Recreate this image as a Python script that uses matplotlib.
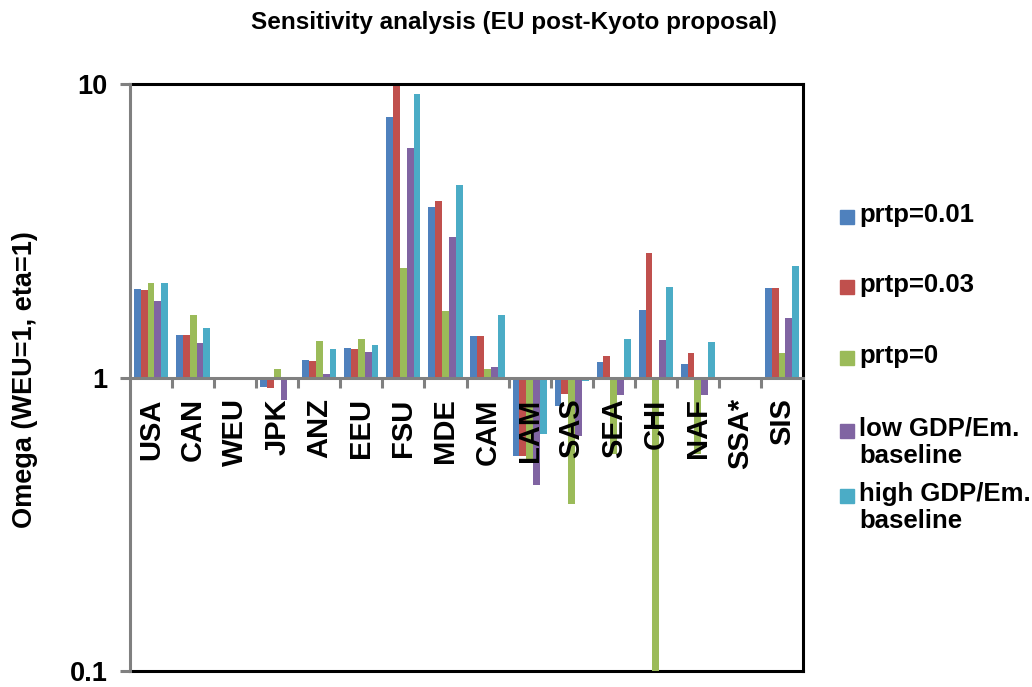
import matplotlib
matplotlib.use("Agg")
import matplotlib.pyplot as plt
import numpy as np
from matplotlib.patches import Rectangle
from matplotlib.ticker import FixedLocator, FixedFormatter, NullLocator

plt.rcParams['font.family'] = ['Liberation Sans', 'DejaVu Sans']
plt.rcParams['font.weight'] = 'bold'

categories = ["USA", "CAN", "WEU", "JPK", "ANZ", "EEU", "FSU", "MDE", "CAM",
              "LAM", "SAS", "SEA", "CHI", "NAF", "SSA*", "SIS"]
series_names = ["prtp=0.01", "prtp=0.03", "prtp=0",
                "low GDP/Em.\nbaseline", "high GDP/Em.\nbaseline"]
prtp_001 = [2.00, 1.40, 1.0, 0.93, 1.15, 1.26, 7.7, 3.82, 1.38, 0.54, 0.80, 1.13, 1.70, 1.11, 1.0, 2.02]
prtp_003 = [1.98, 1.40, 1.0, 0.92, 1.14, 1.25, 10.3, 4.00, 1.38, 0.54, 0.88, 1.18, 2.65, 1.21, 1.0, 2.02]
prtp_0 = [2.10, 1.63, 1.0, 1.07, 1.33, 1.35, 2.37, 1.69, 1.07, 0.52, 0.37, 0.55, 0.09, 0.55, 1.0, 1.21]
low_gdp = [1.82, 1.31, 1.0, 0.84, 1.03, 1.22, 6.06, 3.00, 1.09, 0.43, 0.63, 0.87, 1.34, 0.87, 1.0, 1.59]
high_gdp = [2.10, 1.48, 1.0, 0.98, 1.25, 1.29, 9.26, 4.53, 1.63, 0.64, 0.97, 1.35, 2.04, 1.32, 1.0, 2.40]
series_values = [prtp_001, prtp_003, prtp_0, low_gdp, high_gdp]
colors = ["#4F81BD", "#C0504D", "#9BBB59", "#8064A2", "#4BACC6"]
y_ticks = [0.1, 1, 10]
y_tick_labels = ["0.1", "1", "10"]

W, H = 1032, 687
fig = plt.figure(figsize=(W / 100, H / 100), dpi=100)
L, R, T, B = 130, 803, 84, 671
ax = fig.add_axes([L / W, 1 - B / H, (R - L) / W, (B - T) / H])
ax.set_axisbelow(False)

n = len(categories)
x = np.arange(n) + 0.5
bw = 0.162
for k, (vals, c) in enumerate(zip(series_values, colors)):
    v = np.array(vals)
    ax.bar(x + (k - 2) * bw, v - 1, bottom=1, width=bw, color=c,
           edgecolor='none', zorder=2)

ax.set_yscale('log')
ax.set_ylim(0.1, 10)
ax.set_xlim(0, n)
ax.yaxis.set_major_locator(FixedLocator(y_ticks))
ax.yaxis.set_major_formatter(FixedFormatter(y_tick_labels))
ax.yaxis.set_minor_locator(NullLocator())

ax.spines['bottom'].set_position(('data', 1))
ax.spines['bottom'].set_color('#808080')
ax.spines['bottom'].set_linewidth(2.2)
ax.spines['bottom'].set_zorder(3)
ax.spines['left'].set_color('#808080')
ax.spines['left'].set_linewidth(2.2)
ax.spines['left'].set_zorder(4)
ax.spines['top'].set_color('black')
ax.spines['top'].set_linewidth(2.2)
ax.spines['right'].set_color('black')
ax.spines['right'].set_linewidth(2.2)
ax.plot([0, 1], [0, 0], transform=ax.transAxes, color='black', lw=2.2,
        clip_on=False, zorder=1)

ax.set_xticks(x)
ax.set_xticklabels(categories, rotation=90, fontsize=21, fontweight='bold', va='top')
ax.xaxis.set_minor_locator(FixedLocator(np.arange(1, n)))
ax.tick_params(axis='x', which='major', length=0, pad=15)
ax.tick_params(axis='x', which='minor', length=7, width=2.2, color='#808080', direction='out')
ax.tick_params(axis='y', which='major', length=7, width=2.2, color='#808080', pad=9,
               labelsize=19.5)
for lab in ax.get_yticklabels():
    lab.set_fontweight('bold')

fig.text(514 / W, 1 - 22 / H, "Sensitivity analysis (EU post-Kyoto proposal)",
         ha='center', va='center', fontsize=17.5, fontweight='bold')
fig.text(25 / W, 1 - 380 / H, "Omega (WEU=1, eta=1)", rotation=90,
         ha='center', va='center', fontsize=19.5, fontweight='bold')

leg_y = [217, 287, 358, 431, 496]
for name, c, yy in zip(series_names, colors, leg_y):
    fig.patches.append(Rectangle(((840) / W, 1 - (yy + 7) / H), 14 / W, 14 / H,
                                 transform=fig.transFigure, color=c))
    fig.text(859 / W, 1 - (yy - 14) / H, name, ha='left', va='top',
             fontsize=18.5, fontweight='bold', linespacing=1.15)

fig.savefig("out.png", dpi=100)
